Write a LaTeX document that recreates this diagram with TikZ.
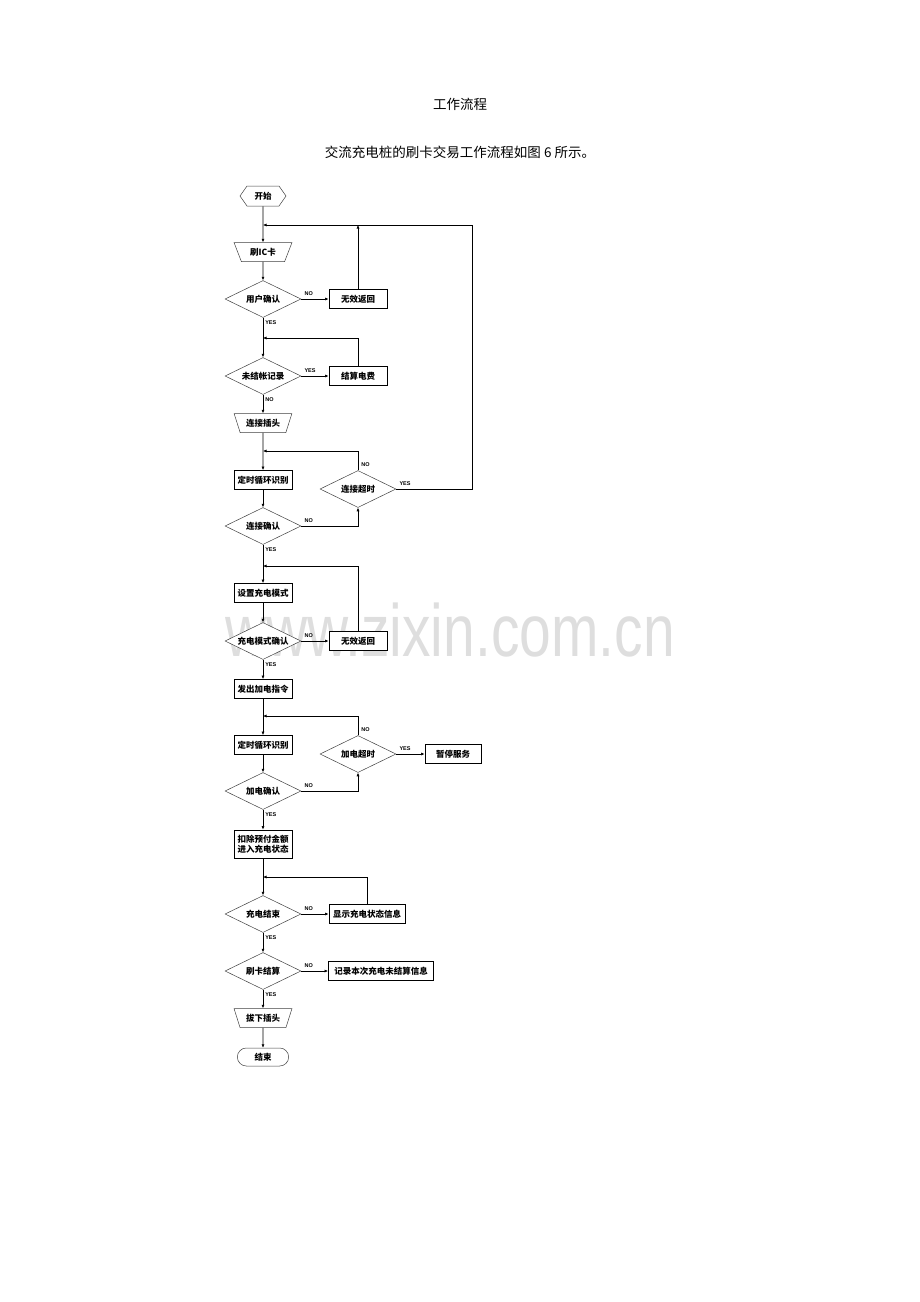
\documentclass[tikz,border=0pt]{standalone}
\usepackage{fontspec}
\setmainfont{Noto Sans CJK SC}
\newfontfamily\latinfont{Liberation Sans}
\usepackage{tikz}
\usetikzlibrary{arrows,arrows.meta,shapes,positioning}
\tikzset{
    process/.style={
                draw=black,
                line width=0.8pt,
                fill=white,
                text centered,
                minimum width=58pt,
                minimum height=19pt,
                inner sep=1.5pt,
                font=\bfseries\fontsize{8.5}{10}\selectfont
            },
        decision/.style={
                diamond,
                draw=black!75,
                line width=0.5pt,
                fill=white,
                aspect=2,
                minimum width=76pt,
                minimum height=37pt,
                inner sep=0pt,
                font=\bfseries\fontsize{8.5}{10}\selectfont
            },
        io/.style={
                trapezium,
                shape border rotate=180,
                trapezium angle=65,
                trapezium stretches=true,
                draw=black!75,
                line width=0.5pt,
                minimum width=58pt,
                minimum height=19pt,
                inner sep=1pt,
                font=\bfseries\fontsize{8.5}{10}\selectfont
            },
        terminal/.style={
                rounded rectangle,
                draw=black!75,
                line width=0.5pt,
                minimum width=58pt,
                minimum height=18pt,
                font=\bfseries\fontsize{8.5}{10}\selectfont
            },
        begin/.style={
                signal,
                signal to=west and east,
                signal pointer angle=110,
                draw=black!75,
                line width=0.5pt,
                minimum width=46pt,
                minimum height=20pt,
                inner sep=1pt,
                font=\bfseries\fontsize{8.5}{10}\selectfont
            },
        yesno/.style={
                inner sep=0pt,
                font=\latinfont\bfseries\fontsize{5.5}{6}\selectfont
            },
        heading/.style={
                font=\fontsize{13.5}{15}\selectfont
            },
        watermark/.style={
                inner sep=0pt,
                xscale=0.77,
                text=black!13,
                font=\latinfont\fontsize{74}{74}\selectfont
            },
        flow/.style={
                draw=black,
                line width=0.6pt,
                ->,
                >={Latex[length=3.5pt,width=3pt]}
            },
}

\begin{document}
\begin{tikzpicture}[x=1pt, y=-1pt, on grid]
  \useasboundingbox (0,0) rectangle (920,1302);
  % Watermark
  \node[watermark, anchor=base west] (wm) at (225,656) {www.zixin.com.cn};
  % Heading
  \node[heading] (title) at (460,104) {工作流程};
  \node[heading] (caption) at (460,152) {交流充电桩的刷卡交易工作流程如图 6 所示。};
  % Main column
  \node[begin] (start) at (263,196) {开始};
  \coordinate[below=29pt of start] (m1);
  \node[io, below=56pt of start] (card) {刷IC卡};
  \node[decision, below=47pt of card] (user) {用户确认};
  \coordinate[below=39pt of user] (m2);
  \node[decision, below=77pt of user] (unsettled) {未结帐记录};
  \node[io, below=47pt of unsettled] (plug) {连接插头};
  \coordinate[below=28pt of plug] (m3);
  \node[process, below=57pt of plug] (timer1) {定时循环识别};
  \node[decision, below=46pt of timer1] (connok) {连接确认};
  \coordinate[below=40pt of connok] (m4);
  \node[process, below=67pt of connok] (setmode) {设置充电模式};
  \node[decision, below=48pt of setmode] (modeok) {充电模式确认};
  \node[process, below=48pt of modeok] (power) {发出加电指令};
  \coordinate[below=27pt of power] (m5);
  \node[process, below=56pt of power] (timer2) {定时循环识别};
  \node[decision, below=46pt of timer2] (powerok) {加电确认};
  \node[process, below=53pt of powerok, minimum height=28pt, align=left] (deduct) {扣除预付金额\\进入充电状态};
  \coordinate[below=33pt of deduct] (m6);
  \node[decision, below=70pt of deduct] (chgend) {充电结束};
  \node[decision, below=57pt of chgend] (settle) {刷卡结算};
  \node[io, below=47pt of settle] (unplug) {拔下插头};
  \node[terminal, below=39pt of unplug] (end) {结束};
  % Side branches
  \node[process, right=95pt of user] (noret1) {无效返回};
  \node[process, right=95pt of unsettled] (pay) {结算电费};
  \node[decision, below right=9pt and 95pt of timer1] (cto) {连接超时};
  \coordinate[right=114pt of cto] (loopcorner);
  \node[process, right=95pt of modeok] (noret2) {无效返回};
  \node[decision, below right=9pt and 95pt of timer2] (pto) {加电超时};
  \node[process, right=95pt of pto, minimum width=56pt] (stop) {暂停服务};
  \node[process, right=104pt of chgend, minimum width=76pt] (show) {显示充电状态信息};
  \node[process, right=118pt of settle, minimum width=105pt] (record) {记录本次充电未结算信息};
  % Connectors
  \draw[flow] (start) -- (card);
  \draw[flow] (card) -- (user);
  \draw[flow] (user) -- node[yesno, pos=0, anchor=north west, xshift=2pt, yshift=-3pt]{YES} (unsettled);
  \draw[flow] (user) -- node[yesno, pos=0, anchor=south west, xshift=3pt, yshift=3pt]{NO} (noret1);
  \draw[flow] (noret1) -- (noret1 |- m1);
  \draw[flow] (unsettled) -- node[yesno, pos=0, anchor=south west, xshift=3pt, yshift=3pt]{YES} (pay);
  \draw[flow] (pay) |- (m2);
  \draw[flow] (unsettled) -- node[yesno, pos=0, anchor=north west, xshift=2pt, yshift=-3pt]{NO} (plug);
  \draw[flow] (plug) -- (timer1);
  \draw[flow] (timer1) -- (connok);
  \draw[flow] (cto) |- node[yesno, pos=0, anchor=south west, xshift=3pt, yshift=3pt]{NO} (m3);
  \draw[flow] (cto) -- node[yesno, pos=0, anchor=south west, xshift=3pt, yshift=3pt]{YES} (loopcorner) |- (m1);
  \draw[flow] (connok) -| node[yesno, pos=0, anchor=south west, xshift=3pt, yshift=3pt]{NO} (cto);
  \draw[flow] (connok) -- node[yesno, pos=0, anchor=north west, xshift=2pt, yshift=-3pt]{YES} (setmode);
  \draw[flow] (setmode) -- (modeok);
  \draw[flow] (modeok) -- node[yesno, pos=0, anchor=south west, xshift=3pt, yshift=3pt]{NO} (noret2);
  \draw[flow] (noret2) |- (m4);
  \draw[flow] (modeok) -- node[yesno, pos=0, anchor=north west, xshift=2pt, yshift=-3pt]{YES} (power);
  \draw[flow] (power) -- (timer2);
  \draw[flow] (timer2) -- (powerok);
  \draw[flow] (pto) |- node[yesno, pos=0, anchor=south west, xshift=3pt, yshift=3pt]{NO} (m5);
  \draw[flow] (pto) -- node[yesno, pos=0, anchor=south west, xshift=3pt, yshift=3pt]{YES} (stop);
  \draw[flow] (powerok) -| node[yesno, pos=0, anchor=south west, xshift=3pt, yshift=3pt]{NO} (pto);
  \draw[flow] (powerok) -- node[yesno, pos=0, anchor=north west, xshift=2pt, yshift=-3pt]{YES} (deduct);
  \draw[flow] (deduct) -- (chgend);
  \draw[flow] (chgend) -- node[yesno, pos=0, anchor=south west, xshift=3pt, yshift=3pt]{NO} (show);
  \draw[flow] (show) |- (m6);
  \draw[flow] (chgend) -- node[yesno, pos=0, anchor=north west, xshift=2pt, yshift=-3pt]{YES} (settle);
  \draw[flow] (settle) -- node[yesno, pos=0, anchor=south west, xshift=3pt, yshift=3pt]{NO} (record);
  \draw[flow] (settle) -- node[yesno, pos=0, anchor=north west, xshift=2pt, yshift=-3pt]{YES} (unplug);
  \draw[flow] (unplug) -- (end);
\end{tikzpicture}
\end{document}
